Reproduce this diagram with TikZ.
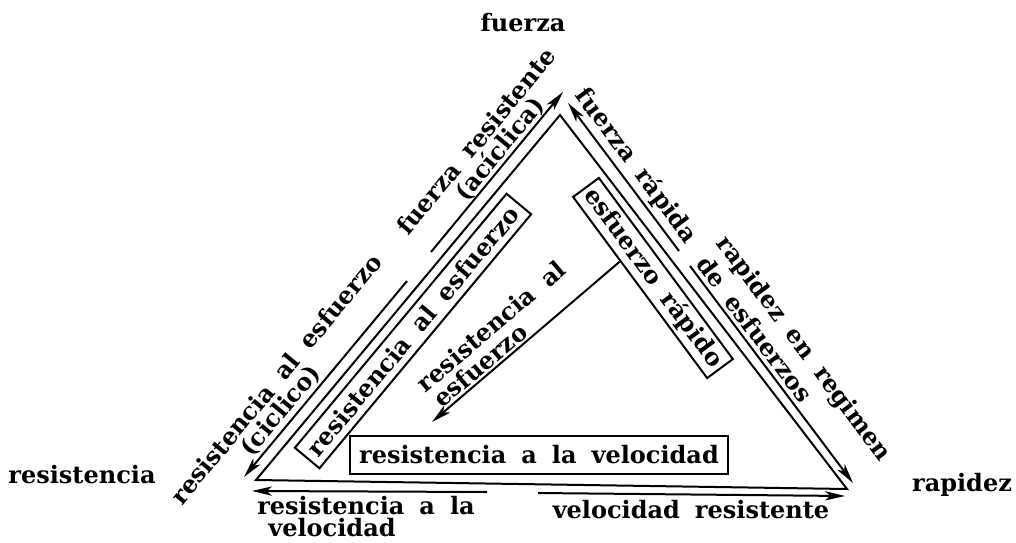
\documentclass[tikz,border=0pt]{standalone}
\usepackage{fontspec}
\setmainfont{DejaVu Serif}[WordSpace=1.8]
\usetikzlibrary{arrows.meta,calc}

\tikzset{
	lbl/.style={font=\bfseries\fontsize{18}{20}\selectfont, inner sep=0pt},
	box/.style={lbl, draw, line width=1.5pt},
	arr/.style={-{Stealth[length=15pt,width=7pt,inset=4pt]}, line width=1.5pt}
}

\begin{document}
\begin{tikzpicture}[x=0.75pt,y=-0.75pt,line width=1.5pt]
	\useasboundingbox (0,0) rectangle (1016,542);

	\coordinate (cl) at (256,480);
	\coordinate (ct) at (560,115);
	\coordinate (cr) at (847,489);
	\draw (cl) -- (ct) -- (cr) -- cycle;

	\node[lbl] (fuerza) at (523,23) {fuerza};
	\node[lbl] (resistencia) at (82,475) {resistencia};
	\node[lbl] (rapidez) at (962,485) {rapidez};

	\coordinate (lb) at (244,477);
	\coordinate (lt) at (563,92);
	\coordinate (lm1) at (407,281);
	\coordinate (lm2) at (431,252);
	\draw[arr] (lm1) -- (lb);
	\draw[arr] (lm2) -- (lt);

	\coordinate (rt) at (568,103);
	\coordinate (rb) at (853,483);
	\coordinate (rm1) at (679,251);
	\coordinate (rm2) at (690,266);
	\draw[arr] (rm1) -- (rt);
	\draw[arr] (rm2) -- (rb);

	\coordinate (bl) at (252,491);
	\coordinate (br) at (845,496);
	\coordinate (bm1) at (487,492);
	\coordinate (bm2) at (538,493);
	\draw[arr] (bm1) -- (bl);
	\draw[arr] (bm2) -- (br);

	\node[lbl, rotate=50.4] (ralc) at (276,379) {resistencia al esfuerzo};
	\node[lbl, rotate=50.4] (cic) at (281,411) {(ciclico)};
	\node[lbl, rotate=50.4] (fres) at (476,141) {fuerza resistente};
	\node[lbl, rotate=50.4] (acic) at (500,149) {(acíclica)};
	\node[lbl, rotate=-53.1] (frap) at (636,166) {fuerza rápida};
	\node[lbl, rotate=-53.1] (rreg) at (803,349) {rapidez en regimen};
	\node[lbl, rotate=-53.1] (desf) at (755,329) {de esfuerzos};
	\node[lbl] (rav) at (366,506) {resistencia a la};
	\node[lbl] (rav2) at (332,528) {velocidad};
	\node[lbl] (vres) at (691,510) {velocidad resistente};

	\node[box, rotate=50.2, minimum width=248pt, minimum height=24pt] (bre) at (413,331) {resistencia al esfuerzo};
	\node[box, rotate=-53.5, minimum width=169pt, minimum height=24pt] (ber) at (653,278) {esfuerzo rápido};
	\node[box, minimum width=283.5pt, minimum height=28.5pt] (brv) at (539,455) {resistencia a la velocidad};

	\coordinate (ae) at (432,422);
	\draw[arr] ($(ber.south)!0.29!(ber.south west)$) -- (ae);
	\node[lbl, rotate=40.4] (rai) at (491,326) {resistencia al};
	\node[lbl, rotate=40.4] (rai2) at (480,365) {esfuerzo};
\end{tikzpicture}
\end{document}
